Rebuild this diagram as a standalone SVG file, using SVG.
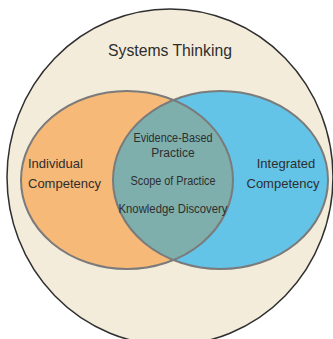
<svg xmlns="http://www.w3.org/2000/svg" width="333" height="339" viewBox="0 0 333 339">
<style>
text{font-family:"Liberation Sans",Arial,sans-serif;fill:#2e2e2e;}
.lbl{font-size:13px;}
.mid{font-size:12px;text-anchor:middle;}
.set{stroke:#7b7b7b;stroke-width:2;}
</style>
<defs>
<clipPath id="clipBlue"><ellipse cx="220.5" cy="180" rx="107.5" ry="89"/></clipPath>
</defs>
<rect width="333" height="339" fill="#ffffff"/>
<g id="systems-thinking">
<ellipse cx="170" cy="177" rx="163" ry="168" fill="#f3ecda" stroke="#2f2f2f" stroke-width="1.5"/>
<text x="170" y="56" text-anchor="middle" font-size="17" textLength="124" lengthAdjust="spacingAndGlyphs">Systems Thinking</text>
</g>
<g id="individual-competency">
<ellipse cx="127" cy="180" rx="106" ry="89" fill="#f6b977"/>
<text class="lbl" x="28" y="168">Individual</text>
<text class="lbl" x="28" y="188">Competency</text>
</g>
<g id="integrated-competency">
<ellipse cx="220.5" cy="180" rx="107.5" ry="89" fill="#64c4e7"/>
<text class="lbl" x="286" y="168" text-anchor="middle">Integrated</text>
<text class="lbl" x="283" y="188" text-anchor="middle">Competency</text>
</g>
<g id="overlap">
<ellipse cx="127" cy="180" rx="106" ry="89" fill="#7eafad" clip-path="url(#clipBlue)"/>
<ellipse cx="127" cy="180" rx="106" ry="89" fill="none" class="set"/>
<ellipse cx="220.5" cy="180" rx="107.5" ry="89" fill="none" class="set"/>
<text class="mid" x="173" y="142" textLength="79" lengthAdjust="spacingAndGlyphs">Evidence-Based</text>
<text class="mid" x="173" y="157">Practice</text>
<text class="mid" x="173" y="185" textLength="85" lengthAdjust="spacingAndGlyphs">Scope of Practice</text>
<text class="mid" x="173" y="213" textLength="109" lengthAdjust="spacingAndGlyphs">Knowledge Discovery</text>
</g>
</svg>
